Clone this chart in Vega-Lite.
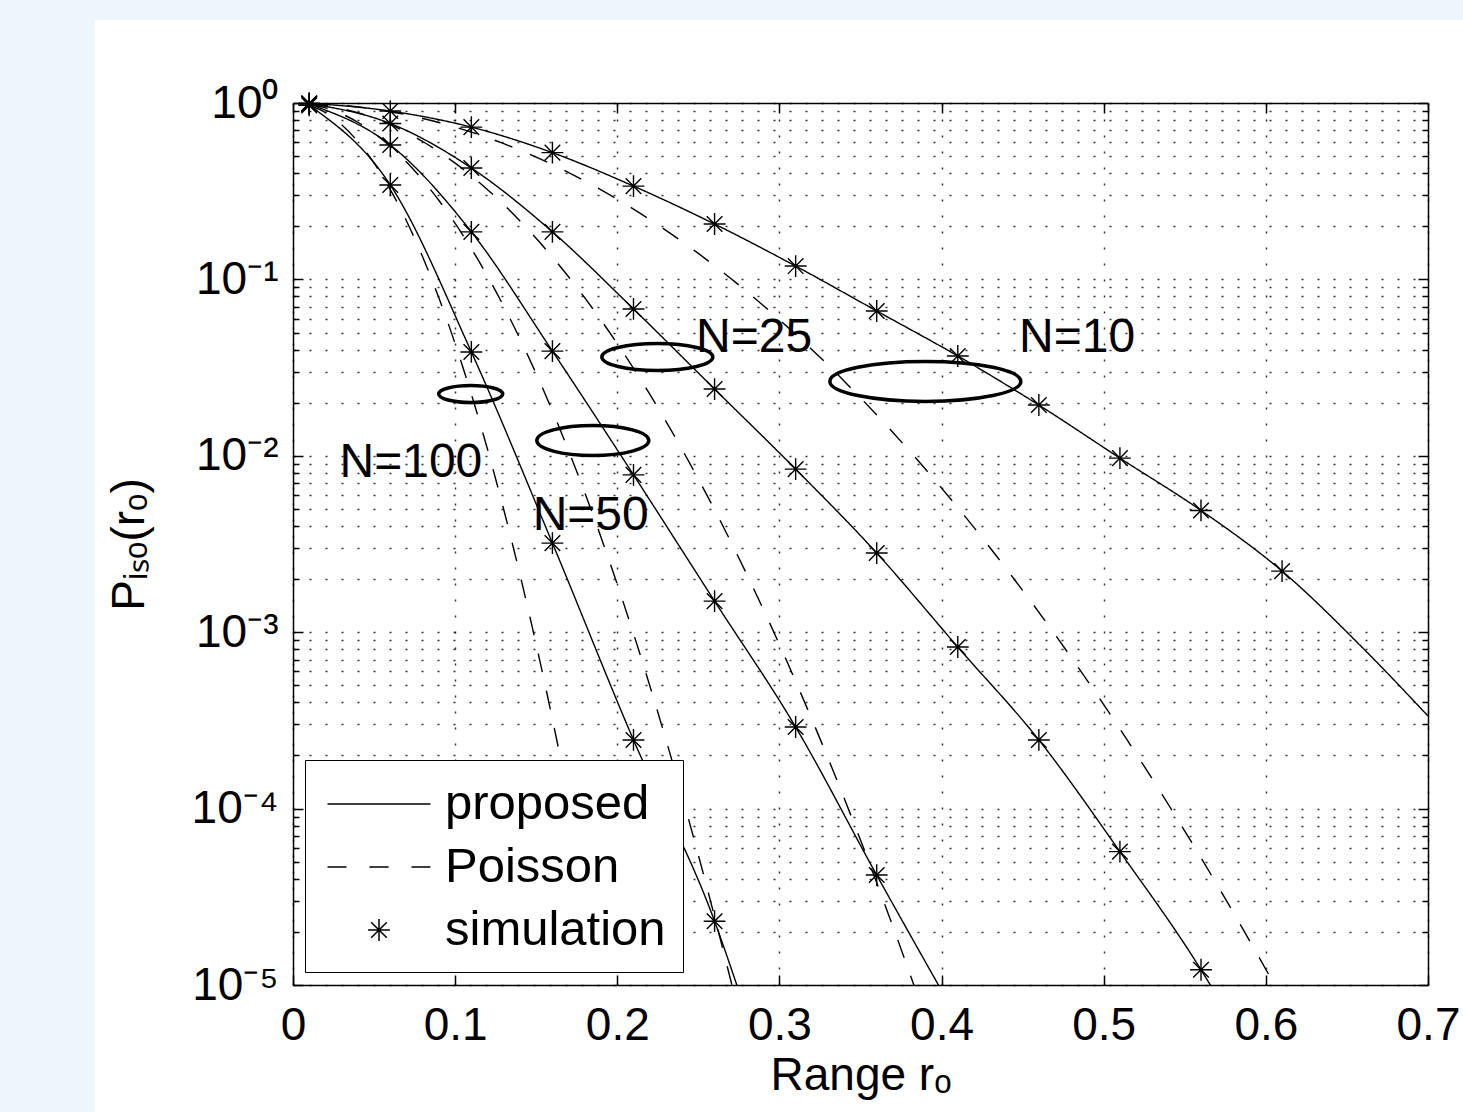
{
  "$schema": "https://vega.github.io/schema/vega-lite/v6.json",
  "width": 1135,
  "height": 882,
  "autosize": "none",
  "padding": {"left": 293, "top": 103, "right": 35, "bottom": 127},
  "background": "white",
  "config": {"view": {"stroke": null}, "font": "Liberation Sans"},
  "datasets": {
    "curves": [
      {"N":10,"type":"proposed","r":0.01,"p":0.997},{"N":10,"type":"proposed","r":0.06,"p":0.90},{"N":10,"type":"proposed","r":0.11,"p":0.73},{"N":10,"type":"proposed","r":0.16,"p":0.523},{"N":10,"type":"proposed","r":0.21,"p":0.338},{"N":10,"type":"proposed","r":0.26,"p":0.206},{"N":10,"type":"proposed","r":0.31,"p":0.119},{"N":10,"type":"proposed","r":0.36,"p":0.0662},{"N":10,"type":"proposed","r":0.41,"p":0.0368},{"N":10,"type":"proposed","r":0.46,"p":0.0194},{"N":10,"type":"proposed","r":0.51,"p":0.0097},{"N":10,"type":"proposed","r":0.56,"p":0.0049},{"N":10,"type":"proposed","r":0.61,"p":0.00222},{"N":10,"type":"proposed","r":0.66,"p":0.00081},{"N":10,"type":"proposed","r":0.70,"p":0.000335},
      {"N":25,"type":"proposed","r":0.01,"p":0.992},{"N":25,"type":"proposed","r":0.06,"p":0.765},{"N":25,"type":"proposed","r":0.11,"p":0.428},{"N":25,"type":"proposed","r":0.16,"p":0.186},{"N":25,"type":"proposed","r":0.21,"p":0.068},{"N":25,"type":"proposed","r":0.26,"p":0.0239},{"N":25,"type":"proposed","r":0.31,"p":0.0084},{"N":25,"type":"proposed","r":0.36,"p":0.00281},{"N":25,"type":"proposed","r":0.41,"p":0.000824},{"N":25,"type":"proposed","r":0.46,"p":0.000245},{"N":25,"type":"proposed","r":0.51,"p":0.000057},{"N":25,"type":"proposed","r":0.56,"p":0.0000122},{"N":25,"type":"proposed","r":0.58,"p":0.000006},
      {"N":50,"type":"proposed","r":0.01,"p":0.985},{"N":50,"type":"proposed","r":0.06,"p":0.578},{"N":50,"type":"proposed","r":0.11,"p":0.186},{"N":50,"type":"proposed","r":0.16,"p":0.0392},{"N":50,"type":"proposed","r":0.21,"p":0.0078},{"N":50,"type":"proposed","r":0.26,"p":0.0015},{"N":50,"type":"proposed","r":0.31,"p":0.00029},{"N":50,"type":"proposed","r":0.36,"p":0.000042},{"N":50,"type":"proposed","r":0.40,"p":0.0000093},
      {"N":100,"type":"proposed","r":0.01,"p":0.97},{"N":100,"type":"proposed","r":0.06,"p":0.343},{"N":100,"type":"proposed","r":0.11,"p":0.0388},{"N":100,"type":"proposed","r":0.16,"p":0.0032},{"N":100,"type":"proposed","r":0.21,"p":0.000245},{"N":100,"type":"proposed","r":0.26,"p":0.000023},{"N":100,"type":"proposed","r":0.28,"p":0.0000067},
      {"N":10,"type":"Poisson","r":0.01,"p":0.9969},{"N":10,"type":"Poisson","r":0.03,"p":0.9721},{"N":10,"type":"Poisson","r":0.05,"p":0.9245},{"N":10,"type":"Poisson","r":0.07,"p":0.8573},{"N":10,"type":"Poisson","r":0.09,"p":0.7753},{"N":10,"type":"Poisson","r":0.11,"p":0.6838},{"N":10,"type":"Poisson","r":0.13,"p":0.588},{"N":10,"type":"Poisson","r":0.15,"p":0.4932},{"N":10,"type":"Poisson","r":0.17,"p":0.4034},{"N":10,"type":"Poisson","r":0.19,"p":0.3217},{"N":10,"type":"Poisson","r":0.21,"p":0.2502},{"N":10,"type":"Poisson","r":0.23,"p":0.1898},{"N":10,"type":"Poisson","r":0.25,"p":0.1404},{"N":10,"type":"Poisson","r":0.27,"p":0.1012},{"N":10,"type":"Poisson","r":0.29,"p":0.0712},{"N":10,"type":"Poisson","r":0.31,"p":0.0488},{"N":10,"type":"Poisson","r":0.33,"p":0.0327},{"N":10,"type":"Poisson","r":0.35,"p":0.0213},{"N":10,"type":"Poisson","r":0.37,"p":0.01356},{"N":10,"type":"Poisson","r":0.39,"p":0.00841},{"N":10,"type":"Poisson","r":0.41,"p":0.00509},{"N":10,"type":"Poisson","r":0.43,"p":0.0030},{"N":10,"type":"Poisson","r":0.45,"p":0.001726},{"N":10,"type":"Poisson","r":0.47,"p":0.000969},{"N":10,"type":"Poisson","r":0.49,"p":0.00053},{"N":10,"type":"Poisson","r":0.51,"p":0.000283},{"N":10,"type":"Poisson","r":0.53,"p":0.000147},{"N":10,"type":"Poisson","r":0.55,"p":0.0000746},{"N":10,"type":"Poisson","r":0.57,"p":0.0000369},{"N":10,"type":"Poisson","r":0.59,"p":0.0000178},{"N":10,"type":"Poisson","r":0.61,"p":0.0000084},
      {"N":25,"type":"Poisson","r":0.01,"p":0.9922},{"N":25,"type":"Poisson","r":0.02,"p":0.9691},{"N":25,"type":"Poisson","r":0.03,"p":0.9318},{"N":25,"type":"Poisson","r":0.04,"p":0.8819},{"N":25,"type":"Poisson","r":0.05,"p":0.8217},{"N":25,"type":"Poisson","r":0.06,"p":0.7537},{"N":25,"type":"Poisson","r":0.07,"p":0.6806},{"N":25,"type":"Poisson","r":0.08,"p":0.6049},{"N":25,"type":"Poisson","r":0.09,"p":0.5294},{"N":25,"type":"Poisson","r":0.10,"p":0.4559},{"N":25,"type":"Poisson","r":0.11,"p":0.3866},{"N":25,"type":"Poisson","r":0.12,"p":0.3227},{"N":25,"type":"Poisson","r":0.13,"p":0.2652},{"N":25,"type":"Poisson","r":0.14,"p":0.2145},{"N":25,"type":"Poisson","r":0.16,"p":0.1339},{"N":25,"type":"Poisson","r":0.18,"p":0.0785},{"N":25,"type":"Poisson","r":0.20,"p":0.04321},{"N":25,"type":"Poisson","r":0.22,"p":0.02234},{"N":25,"type":"Poisson","r":0.24,"p":0.01085},{"N":25,"type":"Poisson","r":0.26,"p":0.004945},{"N":25,"type":"Poisson","r":0.28,"p":0.002117},{"N":25,"type":"Poisson","r":0.30,"p":0.000851},{"N":25,"type":"Poisson","r":0.32,"p":0.000321},{"N":25,"type":"Poisson","r":0.34,"p":0.000114},{"N":25,"type":"Poisson","r":0.36,"p":0.000038},{"N":25,"type":"Poisson","r":0.38,"p":0.0000119},{"N":25,"type":"Poisson","r":0.40,"p":0.0000035},
      {"N":50,"type":"Poisson","r":0.01,"p":0.9844},{"N":50,"type":"Poisson","r":0.02,"p":0.9391},{"N":50,"type":"Poisson","r":0.03,"p":0.8682},{"N":50,"type":"Poisson","r":0.04,"p":0.7778},{"N":50,"type":"Poisson","r":0.05,"p":0.6752},{"N":50,"type":"Poisson","r":0.06,"p":0.5681},{"N":50,"type":"Poisson","r":0.07,"p":0.4632},{"N":50,"type":"Poisson","r":0.08,"p":0.3659},{"N":50,"type":"Poisson","r":0.09,"p":0.2802},{"N":50,"type":"Poisson","r":0.10,"p":0.2079},{"N":50,"type":"Poisson","r":0.11,"p":0.1495},{"N":50,"type":"Poisson","r":0.12,"p":0.1041},{"N":50,"type":"Poisson","r":0.13,"p":0.07032},{"N":50,"type":"Poisson","r":0.14,"p":0.04602},{"N":50,"type":"Poisson","r":0.15,"p":0.02918},{"N":50,"type":"Poisson","r":0.16,"p":0.01793},{"N":50,"type":"Poisson","r":0.17,"p":0.01068},{"N":50,"type":"Poisson","r":0.18,"p":0.006162},{"N":50,"type":"Poisson","r":0.19,"p":0.003446},{"N":50,"type":"Poisson","r":0.20,"p":0.001867},{"N":50,"type":"Poisson","r":0.21,"p":0.000981},{"N":50,"type":"Poisson","r":0.22,"p":0.000499},{"N":50,"type":"Poisson","r":0.23,"p":0.000246},{"N":50,"type":"Poisson","r":0.24,"p":0.0001177},{"N":50,"type":"Poisson","r":0.25,"p":0.0000545},{"N":50,"type":"Poisson","r":0.26,"p":0.0000244},{"N":50,"type":"Poisson","r":0.27,"p":0.0000106},{"N":50,"type":"Poisson","r":0.28,"p":0.0000045},
      {"N":100,"type":"Poisson","r":0.01,"p":0.9691},{"N":100,"type":"Poisson","r":0.02,"p":0.8819},{"N":100,"type":"Poisson","r":0.03,"p":0.7537},{"N":100,"type":"Poisson","r":0.04,"p":0.6049},{"N":100,"type":"Poisson","r":0.05,"p":0.4559},{"N":100,"type":"Poisson","r":0.06,"p":0.3227},{"N":100,"type":"Poisson","r":0.07,"p":0.2145},{"N":100,"type":"Poisson","r":0.08,"p":0.1339},{"N":100,"type":"Poisson","r":0.09,"p":0.0785},{"N":100,"type":"Poisson","r":0.10,"p":0.04321},{"N":100,"type":"Poisson","r":0.11,"p":0.02234},{"N":100,"type":"Poisson","r":0.12,"p":0.01085},{"N":100,"type":"Poisson","r":0.13,"p":0.004945},{"N":100,"type":"Poisson","r":0.14,"p":0.002117},{"N":100,"type":"Poisson","r":0.15,"p":0.000851},{"N":100,"type":"Poisson","r":0.16,"p":0.000321},{"N":100,"type":"Poisson","r":0.17,"p":0.000114},{"N":100,"type":"Poisson","r":0.18,"p":0.000038},{"N":100,"type":"Poisson","r":0.19,"p":0.0000119},{"N":100,"type":"Poisson","r":0.20,"p":0.0000035}
    ],
    "sim": [
      {"N":10,"r":0.01,"p":0.997},{"N":10,"r":0.06,"p":0.90},{"N":10,"r":0.11,"p":0.73},{"N":10,"r":0.16,"p":0.523},{"N":10,"r":0.21,"p":0.338},{"N":10,"r":0.26,"p":0.206},{"N":10,"r":0.31,"p":0.119},{"N":10,"r":0.36,"p":0.0662},{"N":10,"r":0.41,"p":0.0368},{"N":10,"r":0.46,"p":0.0194},{"N":10,"r":0.51,"p":0.0097},{"N":10,"r":0.56,"p":0.0049},{"N":10,"r":0.61,"p":0.00222},
      {"N":25,"r":0.01,"p":0.992},{"N":25,"r":0.06,"p":0.765},{"N":25,"r":0.11,"p":0.428},{"N":25,"r":0.16,"p":0.186},{"N":25,"r":0.21,"p":0.068},{"N":25,"r":0.26,"p":0.0239},{"N":25,"r":0.31,"p":0.0084},{"N":25,"r":0.36,"p":0.00281},{"N":25,"r":0.41,"p":0.000824},{"N":25,"r":0.46,"p":0.000245},{"N":25,"r":0.51,"p":0.000057},{"N":25,"r":0.56,"p":0.0000122},
      {"N":50,"r":0.01,"p":0.985},{"N":50,"r":0.06,"p":0.578},{"N":50,"r":0.11,"p":0.186},{"N":50,"r":0.16,"p":0.0392},{"N":50,"r":0.21,"p":0.0078},{"N":50,"r":0.26,"p":0.0015},{"N":50,"r":0.31,"p":0.00029},{"N":50,"r":0.36,"p":0.000042},
      {"N":100,"r":0.01,"p":0.97},{"N":100,"r":0.06,"p":0.343},{"N":100,"r":0.11,"p":0.0388},{"N":100,"r":0.16,"p":0.0032},{"N":100,"r":0.21,"p":0.000245},{"N":100,"r":0.26,"p":0.000023}
    ],
    "ellipses": [
      {"N":10,"r":0.390,"p":0.0264},{"N":25,"r":0.2247,"p":0.0363},{"N":50,"r":0.1849,"p":0.01221},{"N":100,"r":0.1096,"p":0.0224}
    ],
    "labels": [
      {"label":"N=10","r":0.4478,"p":0.0388},{"label":"N=25","r":0.2486,"p":0.0388},{"label":"N=50","r":0.1478,"p":0.0038},{"label":"N=100","r":0.0287,"p":0.00759}
    ]
  },
  "resolve": {"axis": {"x": "independent", "y": "independent"}},
  "layer": [
    {
      "data": {"values": [{}]},
      "mark": {"type": "rect", "color": "#eef6fd"},
      "encoding": {
        "x": {"datum": -0.3, "type": "quantitative", "scale": {"domain": [0, 0.7], "nice": false, "zero": false}, "axis": null},
        "x2": {"datum": -0.1222},
        "y": {"datum": 10, "type": "quantitative", "scale": {"type": "log", "domain": [0.00001, 1], "nice": false}, "axis": null},
        "y2": {"datum": 0.0000001}
      }
    },
    {
      "data": {"values": [{}]},
      "mark": {"type": "rect", "color": "#eef6fd"},
      "encoding": {
        "x": {"datum": -0.3, "type": "quantitative", "scale": {"domain": [0, 0.7], "nice": false, "zero": false}, "axis": null},
        "x2": {"datum": 0.8},
        "y": {"datum": 10, "type": "quantitative", "scale": {"type": "log", "domain": [0.00001, 1], "nice": false}, "axis": null},
        "y2": {"datum": 2.954}
      }
    },
    {
      "data": {"name": "curves"},
      "mark": {"type": "line", "color": "black", "strokeWidth": 1.4, "clip": true, "interpolate": "monotone"},
      "encoding": {
        "x": {"field": "r", "type": "quantitative", "scale": {"domain": [0, 0.7], "nice": false, "zero": false},
          "axis": {"orient": "bottom", "values": [0, 0.1, 0.2, 0.3, 0.4, 0.5, 0.6, 0.7], "format": ".1~f", "title": "Range rₒ",
            "grid": true, "gridDash": [2, 14], "gridColor": "#000", "gridOpacity": 0.8, "gridWidth": 1.5,
            "tickSize": -10, "tickColor": "#000", "tickWidth": 1.5, "domainColor": "#000", "domainWidth": 1.5,
            "labelFont": "Liberation Sans", "labelFontSize": 46, "labelColor": "#000", "labelPadding": 28, "labelFlush": false, "labelOverlap": false,
            "titleFont": "Liberation Sans", "titleFontSize": 46, "titleFontWeight": "normal", "titleColor": "#000", "titlePadding": 5}},
        "y": {"field": "p", "type": "quantitative", "scale": {"type": "log", "domain": [0.00001, 1], "nice": false},
          "axis": {"orient": "left",
            "values": [0.00001,0.00002,0.00003,0.00004,0.00005,0.00006,0.00007,0.00008,0.00009,0.0001,0.0002,0.0003,0.0004,0.0005,0.0006,0.0007,0.0008,0.0009,0.001,0.002,0.003,0.004,0.005,0.006,0.007,0.008,0.009,0.01,0.02,0.03,0.04,0.05,0.06,0.07,0.08,0.09,0.1,0.2,0.3,0.4,0.5,0.6,0.7,0.8,0.9,1],
            "labelExpr": "abs(log(datum.value)/LN10 - round(log(datum.value)/LN10)) < 0.001 ? ['10⁰','10⁻¹','10⁻²','10⁻³','10⁻⁴','10⁻⁵'][round(-log(datum.value)/LN10)] : ''",
            "title": "Pᵢₛₒ(rₒ)",
            "grid": true, "gridDash": [2, 14], "gridColor": "#000", "gridOpacity": 0.8, "gridWidth": 1.5,
            "tickSize": {"condition": {"test": "abs(log(datum.value)/LN10 - round(log(datum.value)/LN10)) < 0.001", "value": -10}, "value": -6},
            "tickColor": "#000", "tickWidth": 1.5, "domainColor": "#000", "domainWidth": 1.5,
            "labelFont": "Liberation Sans", "labelFontSize": 46, "labelColor": "#000", "labelPadding": 25, "labelFlush": false, "labelOverlap": false,
            "titleFont": "Liberation Sans", "titleFontSize": 46, "titleFontWeight": "normal", "titleColor": "#000", "titlePadding": 38}},
        "detail": [{"field": "N", "type": "nominal"}, {"field": "type", "type": "nominal"}],
        "strokeDash": {"field": "type", "type": "nominal", "scale": {"domain": ["proposed", "Poisson"], "range": [[1, 0], [19, 19]]}, "legend": null}
      }
    },
    {
      "data": {"name": "sim"},
      "mark": {"type": "point", "filled": false, "stroke": "black", "strokeWidth": 1.4, "opacity": 1, "size": 2704},
      "encoding": {
        "x": {"field": "r", "type": "quantitative", "scale": {"domain": [0, 0.7], "nice": false, "zero": false}, "axis": null},
        "y": {"field": "p", "type": "quantitative", "scale": {"type": "log", "domain": [0.00001, 1], "nice": false}, "axis": null},
        "shape": {"datum": "simulation", "type": "nominal",
          "scale": {"domain": ["proposed", "Poisson", "simulation"],
            "range": ["M-1.98,0L1.98,0", "M-1.98,0L-1.25,0M-0.37,0L0.37,0M1.25,0L1.98,0", "M0,-0.42L0,0.42M-0.42,0L0.42,0M-0.3,-0.3L0.3,0.3M-0.3,0.3L0.3,-0.3"]},
          "legend": {"title": null, "orient": "none", "legendX": 12, "legendY": 657, "fillColor": "white", "strokeColor": "black",
            "padding": 17, "symbolSize": 2704, "symbolOffset": 30, "symbolStrokeColor": "black", "symbolStrokeWidth": 1.5, "symbolFillColor": "transparent", "symbolOpacity": 1,
            "labelFont": "Liberation Sans", "labelFontSize": 49, "labelColor": "black", "labelOffset": 39, "labelLimit": 0, "rowPadding": 11}}
      }
    },
    {
      "data": {"name": "ellipses"},
      "transform": [{"filter": "datum.N == 10"}],
      "mark": {"type": "point", "filled": false, "stroke": "black", "strokeWidth": 3.5, "opacity": 1, "size": 36481,
        "shape": "M-1,0C-1,-0.1157,-0.5523,-0.2094,0,-0.2094C0.5523,-0.2094,1,-0.1157,1,0C1,0.1157,0.5523,0.2094,0,0.2094C-0.5523,0.2094,-1,0.1157,-1,0Z"},
      "encoding": {
        "x": {"field": "r", "type": "quantitative", "scale": {"domain": [0, 0.7], "nice": false, "zero": false}, "axis": null},
        "y": {"field": "p", "type": "quantitative", "scale": {"type": "log", "domain": [0.00001, 1], "nice": false}, "axis": null}
      }
    },
    {
      "data": {"name": "ellipses"},
      "transform": [{"filter": "datum.N == 25"}],
      "mark": {"type": "point", "filled": false, "stroke": "black", "strokeWidth": 3.5, "opacity": 1, "size": 12321,
        "shape": "M-1,0C-1,-0.1342,-0.5523,-0.243,0,-0.243C0.5523,-0.243,1,-0.1342,1,0C1,0.1342,0.5523,0.243,0,0.243C-0.5523,0.243,-1,0.1342,-1,0Z"},
      "encoding": {
        "x": {"field": "r", "type": "quantitative", "scale": {"domain": [0, 0.7], "nice": false, "zero": false}, "axis": null},
        "y": {"field": "p", "type": "quantitative", "scale": {"type": "log", "domain": [0.00001, 1], "nice": false}, "axis": null}
      }
    },
    {
      "data": {"name": "ellipses"},
      "transform": [{"filter": "datum.N == 50"}],
      "mark": {"type": "point", "filled": false, "stroke": "black", "strokeWidth": 3.5, "opacity": 1, "size": 12544,
        "shape": "M-1,0C-1,-0.148,-0.5523,-0.268,0,-0.268C0.5523,-0.268,1,-0.148,1,0C1,0.148,0.5523,0.268,0,0.268C-0.5523,0.268,-1,0.148,-1,0Z"},
      "encoding": {
        "x": {"field": "r", "type": "quantitative", "scale": {"domain": [0, 0.7], "nice": false, "zero": false}, "axis": null},
        "y": {"field": "p", "type": "quantitative", "scale": {"type": "log", "domain": [0.00001, 1], "nice": false}, "axis": null}
      }
    },
    {
      "data": {"name": "ellipses"},
      "transform": [{"filter": "datum.N == 100"}],
      "mark": {"type": "point", "filled": false, "stroke": "black", "strokeWidth": 3.5, "opacity": 1, "size": 4096,
        "shape": "M-1,0C-1,-0.1469,-0.5523,-0.266,0,-0.266C0.5523,-0.266,1,-0.1469,1,0C1,0.1469,0.5523,0.266,0,0.266C-0.5523,0.266,-1,0.1469,-1,0Z"},
      "encoding": {
        "x": {"field": "r", "type": "quantitative", "scale": {"domain": [0, 0.7], "nice": false, "zero": false}, "axis": null},
        "y": {"field": "p", "type": "quantitative", "scale": {"type": "log", "domain": [0.00001, 1], "nice": false}, "axis": null}
      }
    },
    {
      "data": {"name": "labels"},
      "mark": {"type": "text", "font": "Liberation Sans", "fontSize": 48, "align": "left", "baseline": "alphabetic", "color": "black"},
      "encoding": {
        "x": {"field": "r", "type": "quantitative", "scale": {"domain": [0, 0.7], "nice": false, "zero": false},
          "axis": {"orient": "top", "values": [0, 0.1, 0.2, 0.3, 0.4, 0.5, 0.6, 0.7], "labels": false, "grid": false, "title": null,
            "tickSize": -10, "tickColor": "#000", "tickWidth": 1.5, "domainColor": "#000", "domainWidth": 1.5}},
        "y": {"field": "p", "type": "quantitative", "scale": {"type": "log", "domain": [0.00001, 1], "nice": false},
          "axis": {"orient": "right",
            "values": [0.00001,0.00002,0.00003,0.00004,0.00005,0.00006,0.00007,0.00008,0.00009,0.0001,0.0002,0.0003,0.0004,0.0005,0.0006,0.0007,0.0008,0.0009,0.001,0.002,0.003,0.004,0.005,0.006,0.007,0.008,0.009,0.01,0.02,0.03,0.04,0.05,0.06,0.07,0.08,0.09,0.1,0.2,0.3,0.4,0.5,0.6,0.7,0.8,0.9,1],
            "labels": false, "grid": false, "title": null,
            "tickSize": {"condition": {"test": "abs(log(datum.value)/LN10 - round(log(datum.value)/LN10)) < 0.001", "value": -10}, "value": -6},
            "tickColor": "#000", "tickWidth": 1.5, "domainColor": "#000", "domainWidth": 1.5}},
        "text": {"field": "label", "type": "nominal"}
      }
    }
  ]
}
